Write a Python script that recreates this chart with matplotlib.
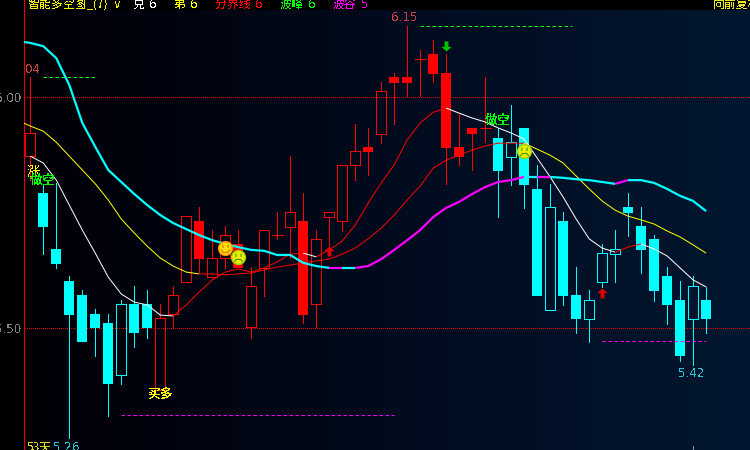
import numpy as np
import matplotlib
matplotlib.use("Agg")
import matplotlib.pyplot as plt
from matplotlib.colors import LinearSegmentedColormap
from matplotlib.path import Path

plt.rcParams['font.family'] = ['Noto Sans CJK SC', 'DejaVu Sans']
plt.rcParams['text.antialiased'] = False

# ---- data: candle values (body top, body bottom, high, low), prices ----
body_top = [5.921,5.791,5.670,5.601,5.570,5.529,5.510,5.551,5.551,5.551,5.521,5.570,5.741,
            5.7305,5.6505,5.700,5.681,5.590,5.711,5.700,5.750,5.7305,5.692,5.750,5.852,5.882,
            5.891,6.012,6.042,6.042,6.081,6.092,6.051,5.891,5.932,5.932,5.910,5.901,5.932,
            5.800,5.761,5.7305,5.570,5.560,5.661,5.670,5.761,5.720,5.692,5.6115,5.560,5.590,5.560]
body_bot = [5.871,5.7176,5.6375,5.527,5.469,5.499,5.378,5.397,5.488,5.499,5.365,5.529,5.599,
            5.648,5.609,5.6505,5.629,5.501,5.629,5.700,5.7176,5.527,5.551,5.739,5.7305,5.852,
            5.880,5.919,6.029,6.029,6.081,6.049,5.889,5.869,5.919,5.932,5.839,5.869,5.808,
            5.568,5.538,5.568,5.518,5.518,5.599,5.659,5.748,5.668,5.579,5.549,5.438,5.518,5.518]
high = [6.042,5.811,5.813,5.6115,5.581,5.540,5.529,5.560,5.590,5.581,5.551,5.590,5.741,
        5.761,5.711,5.720,5.711,5.631,5.711,5.750,5.871,5.791,5.711,5.750,5.852,5.941,
        5.932,6.031,6.051,6.153,6.101,6.122,6.092,5.962,5.932,6.042,5.932,5.982,5.932,
        5.852,5.811,5.750,5.631,5.581,5.681,5.711,5.791,5.761,5.700,5.631,5.601,5.6115,5.588]
low = [5.819,5.659,5.629,5.261,5.469,5.438,5.309,5.378,5.458,5.477,5.365,5.499,5.599,
       5.620,5.609,5.629,5.629,5.477,5.568,5.692,5.6505,5.510,5.501,5.679,5.709,5.819,
       5.830,5.899,5.941,6.001,6.001,6.031,5.811,5.852,5.841,5.901,5.739,5.808,5.759,
       5.568,5.538,5.549,5.488,5.469,5.588,5.599,5.698,5.618,5.557,5.508,5.4275,5.419,5.488]
# 'R' red, 'C' cyan; lower case = hollow body
candle_kind = "rCCCCCCcCCrrrRrrRrrrrRrrrrRrRRrRRRRRCcCCcCCcccCCCCCcC"

# ---- data: indicator lines; thick and mid begin one bar before the first candle ----
thick = [6.120,6.116,6.109,6.083,6.025,5.943,5.891,5.841,5.815,5.789,5.765,5.7435,5.726,5.713,
         5.700,5.689,5.681,5.674,5.668,5.666,5.657,5.657,5.640,5.633,5.629,5.629,5.629,5.633,
         5.648,5.668,5.689,5.711,5.739,5.759,5.772,5.789,5.804,5.815,5.819,5.826,5.826,5.826,
         5.824,5.821,5.819,5.815,5.811,5.819,5.819,5.813,5.800,5.785,5.774,5.752]
mid = [5.949,5.936,5.925,5.901,5.871,5.841,5.811,5.776,5.735,5.7045,5.676,5.6505,5.633,5.620,
       5.616,5.616,5.614,5.616,5.618,5.6245,5.631,5.635,5.640,5.644,5.648,5.659,5.672,5.692,
       5.715,5.7435,5.776,5.806,5.845,5.862,5.873,5.884,5.893,5.899,5.899,5.899,5.886,5.873,
       5.856,5.828,5.800,5.774,5.754,5.741,5.733,5.724,5.709,5.696,5.679,5.661]
fast = [5.871,5.856,5.819,5.765,5.711,5.661,5.609,5.5725,5.555,5.549,5.527,5.525,5.549,5.577,
        5.603,5.620,5.627,5.620,5.629,5.642,5.659,5.661,5.653,5.668,5.687,5.722,5.7695,5.813,
        5.852,5.906,5.943,5.966,5.975,5.964,5.9535,5.945,5.932,5.921,5.908,5.867,5.826,5.7825,
        5.735,5.692,5.672,5.663,5.674,5.681,5.670,5.655,5.629,5.603,5.588]

thick_spans = [(-1,23,'#00ffff'),(23,24,'#ff00ff'),(24,25,'#00ffff'),(25,38,'#ff00ff'),(38,39,'#00ffff'),
               (39,40,'#ff00ff'),(40,45,'#00ffff'),(45,46,'#ff00ff'),(46,52,'#00ffff')]
mid_spans = [(-1,13,'#ffff00'),(13,38,'#ff0000'),(38,52,'#ffff00')]
fast_spans = [(0,11,'#ffffff'),(11,21,'#ff0000'),(21,22,'#ffffff'),(22,32,'#ff0000'),(32,45,'#ffffff'),
              (45,47,'#ff0000'),(47,52,'#ffffff')]

# ---- data: reference levels, dashes and labels ----
grid_levels = [6.00, 5.50]
axis_labels = ['6.00', '5.50']
dash_green = [(1, 5, 6.042), (30, 41.7, 6.153)]
dash_magenta = [(7, 28, 5.310), (44, 52, 5.470)]
smile_up = [(15, 5.672)]
smile_down = [(16, 5.653), (38, 5.882)]
arrows_up = [(23, 5.666), (44, 5.575)]
arrows_down = [(32, 6.109)]

fig = plt.figure(figsize=(7.5, 4.5), dpi=100, facecolor='black')
ax = fig.add_axes([24.5/750, 0, 725.5/750, 1], facecolor='black')
XLIM = (-0.446, 55.38)
YLIM = (5.2349, 6.2089)

# background: banded horizontal gradient, stops under the header strip
grad_cmap = LinearSegmentedColormap.from_list('bg', ['#000006', '#010b1e', '#01172f'], N=24)
ax.imshow(np.linspace(0, 1, 256).reshape(1, -1), cmap=grad_cmap, aspect='auto',
          extent=(0, 1, 0, 1 - 10/450), transform=ax.transAxes, zorder=0, interpolation='nearest')

ax.hlines(grid_levels, *XLIM, colors='#e80000', linewidth=0.72, linestyles=(0.5, (1.0, 1.0)), zorder=1)

RED, CYAN = '#ff0000', '#00ffff'
BAR_W = 10.4/13
THIN = 0.55
for i, k in enumerate(candle_kind):
    col = RED if k in 'Rr' else CYAN
    t, b = body_top[i], body_bot[i]
    ax.vlines(i, t, high[i], colors=col, linewidth=THIN, zorder=2, antialiased=False)
    ax.vlines(i, low[i], b, colors=col, linewidth=THIN, zorder=2, antialiased=False)
    if t == b:
        ax.hlines(t, i - 0.42, i + 0.42, colors=col, linewidth=THIN, zorder=2, antialiased=False)
    elif k in 'RC':
        ax.bar(i, t - b, BAR_W, bottom=b, color=col, edgecolor='none', linewidth=0, zorder=2, antialiased=False)
    else:
        ax.bar(i, t - b, BAR_W, bottom=b, facecolor='none', edgecolor=col, linewidth=THIN, zorder=2, antialiased=False)


def draw_line(values, first, spans, lw, z):
    for a, c, col in spans:
        xs = np.arange(a, c + 1)
        ys = np.asarray(values)[a - first:c - first + 1]
        ax.plot(xs, ys, color=col, lw=lw, zorder=z, solid_capstyle='butt', antialiased=True)


draw_line(mid, -1, mid_spans, 0.72, 3)
draw_line(fast, 0, fast_spans, 0.72, 3)
draw_line(thick, -1, thick_spans, 1.6, 4)

for a, c, v in dash_green:
    ax.hlines(v, a, c, colors='#00ff00', linewidth=0.72, linestyles=(0, (3.5, 2.5)), zorder=3)
for a, c, v in dash_magenta:
    ax.hlines(v, a, c, colors='#ff00ff', linewidth=0.72, linestyles=(0, (3.5, 2.5)), zorder=3)

# arrows
up_shape = Path([(0, 1), (-1, 0.1), (-0.35, 0.1), (-0.35, -1), (0.35, -1), (0.35, 0.1), (1, 0.1), (0, 1)], closed=True)
down_shape = Path([(0, -1), (-1, -0.1), (-0.35, -0.1), (-0.35, 1), (0.35, 1), (0.35, -0.1), (1, -0.1), (0, -1)], closed=True)
for i, v in arrows_up:
    ax.plot(i, v, marker=up_shape, ms=7, mfc='#e00000', mec='#e00000', mew=0.2, ls='none', zorder=5)
for i, v in arrows_down:
    ax.plot(i, v, marker=down_shape, ms=7, mfc='#00c000', mec='#00c000', mew=0.2, ls='none', zorder=5)

# faces
M, L = Path.MOVETO, Path.LINETO
eyes = [(-0.4, 0.6), (-0.4, 0.1), (0.4, 0.6), (0.4, 0.1)]
eye_codes = [M, L, M, L]
smile = Path(eyes + [(-0.7, -0.15), (-0.35, -0.6), (0.35, -0.6), (0.7, -0.15)], eye_codes + [M, L, L, L])
frown = Path(eyes + [(-0.65, -0.7), (-0.35, -0.3), (0.35, -0.3), (0.65, -0.7)], eye_codes + [M, L, L, L])
for i, v in smile_up:
    ax.plot(i, v, 'o', ms=10, mfc='#ffe000', mec='#ff8c00', mew=1.0, zorder=6)
    ax.plot(i, v, marker=smile, ms=6.5, mfc='none', mec='#d07000', mew=0.8, ls='none', zorder=7)
for i, v in smile_down:
    ax.plot(i, v, 'o', ms=10, mfc='#e8f000', mec='#a0d000', mew=1.0, zorder=6)
    ax.plot(i, v, marker=frown, ms=6.5, mfc='none', mec='#509000', mew=0.8, ls='none', zorder=7)

# chart annotations
ax.text(0.25, 5.8366, '涨', color='#ffff00', fontsize=9.5, ha='center', va='center', zorder=6)
ax.text(0.95, 5.819, '做空', color='#00ff00', fontsize=9.2, fontweight='bold', ha='center', va='center', zorder=7)
ax.text(35.95, 5.948, '做空', color='#00ff00', fontsize=9.2, fontweight='bold', ha='center', va='center', zorder=7)
ax.text(10, 5.355, '买多', color='#ffff00', fontsize=9.2, fontweight='bold', ha='center', va='center', zorder=7)
ax.text(28.75, 6.170, '6.15', color='#c84040', fontsize=8.6, fontfamily='DejaVu Sans', ha='center', va='center', zorder=7)
ax.text(0.2, 6.058, '04', color='#c84040', fontsize=8.6, fontfamily='DejaVu Sans', ha='center', va='center', zorder=7)
ax.text(50.85, 5.400, '5.42', color='#20c8d8', fontsize=8.6, fontfamily='DejaVu Sans', ha='center', va='center', zorder=7)
ax.text(-0.27, 5.2405, '53天', color='#d8d820', fontsize=8.6, ha='left', va='center', zorder=7)
ax.text(1.75, 5.2405, '5.26', color='#20c8d8', fontsize=8.6, fontfamily='DejaVu Sans', ha='left', va='center', zorder=7)
ax.vlines(51.0, YLIM[0], 5.2435, colors='#909090', linewidth=THIN, zorder=3, antialiased=False)

ax.set_xlim(*XLIM)
ax.set_ylim(*YLIM)
for s in ['top', 'right', 'bottom']:
    ax.spines[s].set_visible(False)
ax.spines['left'].set_color('#e00000')
ax.spines['left'].set_linewidth(0.8)
ax.set_xticks([])
ax.set_yticks(grid_levels)
ax.set_yticklabels(axis_labels, color='#808080', fontsize=8.6, fontfamily='DejaVu Sans')
ax.tick_params(axis='y', length=0, pad=2)


def head(x, s, color, family=None):
    kw = {'fontfamily': family} if family else {}
    fig.text(x/750, 1 - 8/450, s, color=color, fontsize=8.6, ha='left', va='baseline', zorder=10, **kw)


head(28, '智能多空图_(7)', '#f0f000')
head(113, '∨', '#f0f000', 'DejaVu Sans')
head(133, '兑', '#ffffff')
head(149, '6', '#ffffff', 'DejaVu Sans')
head(174, '弟', '#ffff00')
head(190, '6', '#ffff00', 'DejaVu Sans')
head(215, '分界线', '#ff0000')
head(255, '6', '#ff0000', 'DejaVu Sans')
head(280, '波峰', '#00ff00')
head(308, '6', '#00ff00', 'DejaVu Sans')
head(333, '波谷', '#ff00ff')
head(361, '5', '#ff00ff', 'DejaVu Sans')
head(713, '向前复权', '#e8e820')

fig.savefig('out.png', dpi=100, facecolor='black')
